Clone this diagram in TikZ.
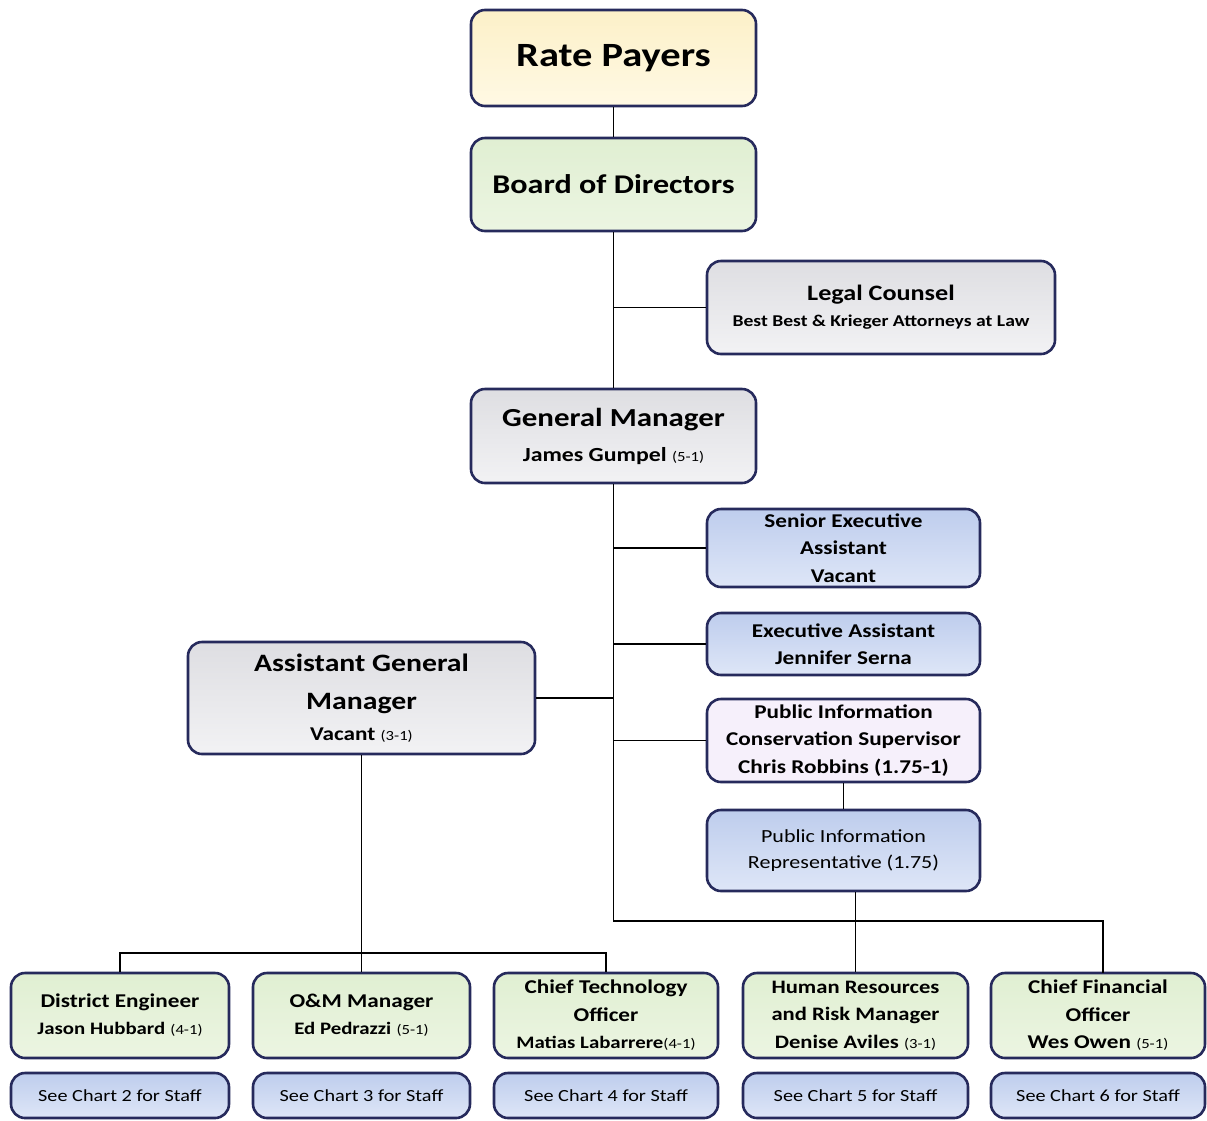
\documentclass[tikz,border=0pt]{standalone}
\usepackage{fontspec}
\setmainfont{Carlito}[FakeStretch=1.19]
\newcommand{\fte}[1]{{\mdseries\fontsize{14}{14}\selectfont(#1)}}

\definecolor{boxline}{RGB}{38,42,92}
\definecolor{yellowtop}{RGB}{252,240,200}
\definecolor{yellowbot}{RGB}{255,249,228}
\definecolor{greentop}{RGB}{224,239,210}
\definecolor{greenbot}{RGB}{236,245,226}
\definecolor{greytop}{RGB}{222,222,226}
\definecolor{greybot}{RGB}{242,242,244}
\definecolor{bluetop}{RGB}{190,205,237}
\definecolor{bluebot}{RGB}{222,230,247}
\definecolor{lilac}{RGB}{246,240,251}

\begin{document}
\begin{tikzpicture}[x=1pt, y=-1pt,
                    box_style/.style={draw=boxline, line width=2.6pt, rounded corners=14pt,
                                      align=center, inner sep=0pt, font=\bfseries},
                    yellow_box/.style={box_style, top color=yellowtop, bottom color=yellowbot},
                    green_box/.style={box_style, top color=greentop, bottom color=greenbot},
                    grey_box/.style={box_style, top color=greytop, bottom color=greybot},
                    blue_box/.style={box_style, top color=bluetop, bottom color=bluebot},
                    lilac_box/.style={box_style, fill=lilac},
                    staff_box/.style={blue_box, font=\mdseries\fontsize{17}{20}\selectfont,
                                      minimum height=45pt},
                    edge_style/.style={draw=black, line width=1.4pt}]
                    \useasboundingbox (0,0) rectangle (1207,1120);
                    \node[yellow_box, minimum width=285pt, minimum height=96pt,
                          font=\bfseries\fontsize{34}{40}\selectfont] (rate) at (613.5, 58) {Rate Payers};
                    \node[green_box, minimum width=285pt, minimum height=93pt,
                          font=\bfseries\fontsize{27}{32}\selectfont] (board) at (613.5, 184.5) {Board of Directors};
                    \node[grey_box, minimum width=348pt, minimum height=93pt,
                          font=\bfseries\fontsize{22}{26}\selectfont] (legal) at (881, 307.5)
                        {Legal Counsel\\
                         \fontsize{16.5}{26}\selectfont Best Best \& Krieger Attorneys at Law};
                    \node[grey_box, minimum width=285pt, minimum height=94pt,
                          font=\bfseries\fontsize{26}{35}\selectfont] (gm) at (613.5, 436)
                        {General Manager\\
                         \fontsize{20}{35}\selectfont James Gumpel \fte{5-1}};
                    \node[blue_box, minimum width=273pt, minimum height=78pt,
                          font=\bfseries\fontsize{19.5}{27.5}\selectfont] (sea) at (843.5, 548)
                        {Senior Executive\\Assistant\\Vacant};
                    \node[blue_box, minimum width=273pt, minimum height=62pt,
                          font=\bfseries\fontsize{19.5}{27.5}\selectfont] (ea) at (843.5, 644)
                        {Executive Assistant\\Jennifer Serna};
                    \node[lilac_box, minimum width=273pt, minimum height=83pt,
                          font=\bfseries\fontsize{19.5}{27.5}\selectfont] (pics) at (843.5, 740.5)
                        {Public Information\\Conservation Supervisor\\Chris Robbins (1.75-1)};
                    \node[blue_box, minimum width=273pt, minimum height=81pt,
                          font=\mdseries\fontsize{18.5}{26}\selectfont] (pir) at (843.5, 850.5)
                        {Public Information\\Representative (1.75)};
                    \node[grey_box, minimum width=347pt, minimum height=112pt,
                          font=\bfseries\fontsize{25}{38}\selectfont] (agm) at (361.5, 698)
                        {Assistant General\\Manager\\[-7pt]
                         \fontsize{19.5}{31}\selectfont Vacant \fte{3-1}};
                    % department heads
                    \node[green_box, minimum width=218pt, minimum height=85pt,
                          font=\bfseries\fontsize{19.5}{27}\selectfont] (de) at (120, 1015.5)
                        {District Engineer\\{\fontsize{17.5}{27}\selectfont Jason Hubbard} \fte{4-1}};
                    \node[green_box, minimum width=217pt, minimum height=85pt,
                          font=\bfseries\fontsize{19.5}{27}\selectfont] (om) at (361.5, 1015.5)
                        {O\&M Manager\\{\fontsize{17.5}{27}\selectfont Ed Pedrazzi} \fte{5-1}};
                    \node[green_box, minimum width=224pt, minimum height=85pt,
                          font=\bfseries\fontsize{19.5}{27.5}\selectfont] (cto) at (606, 1015.5)
                        {Chief Technology\\Officer\\{\fontsize{17.5}{27.5}\selectfont Matias Labarrere}\fte{4-1}};
                    \node[green_box, minimum width=225pt, minimum height=85pt,
                          font=\bfseries\fontsize{19}{27.5}\selectfont] (hr) at (855.5, 1015.5)
                        {Human Resources\\and Risk Manager\\Denise Aviles \fte{3-1}};
                    \node[green_box, minimum width=214pt, minimum height=85pt,
                          font=\bfseries\fontsize{19.5}{27.5}\selectfont] (cfo) at (1098, 1015.5)
                        {Chief Financial\\Officer\\Wes Owen \fte{5-1}};
                    % staff charts
                    \node[staff_box, minimum width=218pt] (de_staff) at (120, 1095.5) {See Chart 2 for Staff};
                    \node[staff_box, minimum width=217pt] (om_staff) at (361.5, 1095.5) {See Chart 3 for Staff};
                    \node[staff_box, minimum width=224pt] (cto_staff) at (606, 1095.5) {See Chart 4 for Staff};
                    \node[staff_box, minimum width=225pt] (hr_staff) at (855.5, 1095.5) {See Chart 5 for Staff};
                    \node[staff_box, minimum width=214pt] (cfo_staff) at (1098, 1095.5) {See Chart 6 for Staff};
                    \coordinate (gm_drop) at (613.5, 921);
                    \coordinate (agm_drop) at (361.5, 953);
                    \coordinate (cfo_top) at (1103, 973);
                    \draw[edge_style] (rate) -- (board);
                    \draw[edge_style] (board) -- (gm);
                    \draw[edge_style] (legal.west) -- (legal.west -| board.south);
                    \draw[edge_style] (sea.west) -- (sea.west -| gm.south);
                    \draw[edge_style] (ea.west) -- (ea.west -| gm.south);
                    \draw[edge_style] (pics.west) -- (pics.west -| gm.south);
                    \draw[edge_style] (agm.east) -- (agm.east -| gm.south);
                    \draw[edge_style] (pics) -- (pir);
                    \draw[edge_style] (gm.south) -- (gm_drop) -| (cfo_top);
                    \draw[edge_style] (hr.north) -- (hr.north |- pir.south);
                    \draw[edge_style] (agm.south) -- (agm_drop);
                    \draw[edge_style] (de.north) |- (agm_drop) -| (cto.north);
                    \draw[edge_style] (agm_drop) -- (om.north);
                \end{tikzpicture}
\end{document}
